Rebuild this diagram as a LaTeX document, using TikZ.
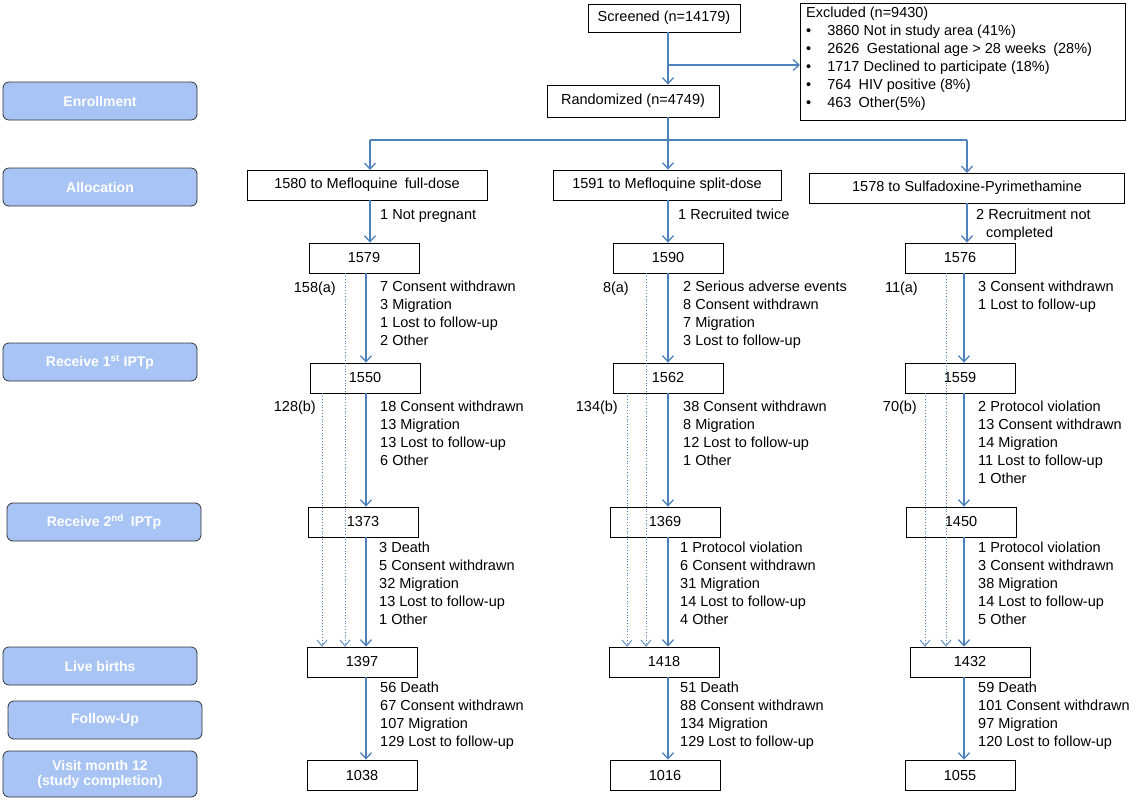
\documentclass[tikz,border=0pt]{standalone}
\usepackage{fontspec}
\setmainfont{Liberation Sans}
\usetikzlibrary{arrows.meta}

\definecolor{arrowblue}{RGB}{79,129,189}
\definecolor{phaseblue}{RGB}{168,196,245}

\tikzset{
  numbox/.style={draw, thick, minimum width=110pt, minimum height=30pt, inner sep=0pt, font=\fontsize{14.5}{16}\selectfont},
  phasebox/.style={draw=black!80, thick, rounded corners=6pt, fill=phaseblue, text=white,
    font=\fontsize{14}{15}\selectfont\bfseries, minimum width=194pt, minimum height=38pt, align=center, inner sep=0pt},
  flow/.style={draw=arrowblue, line width=1.3pt, -{Straight Barb[length=6pt,width=11pt]}},
  dotflow/.style={draw=arrowblue, thick, dotted, -{Straight Barb[length=6pt,width=10pt]}},
  reasons/.style={anchor=north west, align=left, inner sep=0pt, font=\fontsize{14.5}{18}\selectfont},
  tag/.style={anchor=north east, inner sep=0pt, font=\fontsize{14.5}{18}\selectfont}
}

\begin{document}
\begin{tikzpicture}[x=1pt,y=-1pt]
  \useasboundingbox (0,0) rectangle (1132,800);

  % phase labels on the left
  \node[phasebox] (enrol) at (100,101) {Enrollment};
  \node[phasebox] (alloc) at (100,187) {Allocation};
  \node[phasebox] (ipt1) at (100,362) {Receive 1\textsuperscript{st} IPTp};
  \node[phasebox] (ipt2) at (104,522) {Receive 2\textsuperscript{nd}\enspace IPTp};
  \node[phasebox] (live) at (100,666) {Live births};
  \node[phasebox] (fup) at (105,720) {Follow-Up};
  \node[phasebox, minimum height=46pt] (visit) at (100,774) {Visit month 12\\(study completion)};

  % screening
  \node[numbox, minimum width=152pt, minimum height=28pt] (screen) at (664,18) {Screened (n=14179)};
  \node[draw, thick, anchor=north west, minimum width=325pt, minimum height=117pt] (excl) at (800,3) {};
  \node[reasons, anchor=north west] (excltxt) at (806,7)
    {Excluded (n=9430)\\
     \textbullet\hspace{16pt}3860 Not in study area (41\%)\\
     \textbullet\hspace{16pt}2626\enspace Gestational age {>} 28 weeks\enspace(28\%)\\
     \textbullet\hspace{16pt}1717 Declined to participate (18\%)\\
     \textbullet\hspace{16pt}764\enspace HIV positive (8\%)\\
     \textbullet\hspace{16pt}463\enspace Other(5\%)};
  \node[numbox, minimum width=172pt, minimum height=32pt] (rand) at (633,101) {Randomized (n=4749)};
  \coordinate (split) at (668,65);
  \draw[flow] (screen.south -| split) -- (rand.north -| split);
  \draw[flow] (split) -- (excl.west |- split);

  % allocation
  \node[numbox, minimum width=240pt] (armA) at (367,185) {1580 to Mefloquine\enspace full-dose};
  \node[numbox, minimum width=228pt] (armB) at (667,185) {1591 to Mefloquine split-dose};
  \node[numbox, minimum width=315pt] (armC) at (967,188) {1578 to Sulfadoxine-Pyrimethamine};
  \coordinate (branch) at (668,140);
  \draw[arrowblue, line width=1.3pt] (rand.south -| branch) -- (branch);
  \draw[arrowblue, line width=1.3pt] (370,140) -- (967,140);
  \draw[flow] (370,140) -- (370,170);
  \draw[flow] (branch) -- (armB.north -| branch);
  \draw[flow] (967,140) -- (967,173);

  % column boxes
  \node[numbox] (a1) at (364,258) {1579};
  \node[numbox] (a2) at (365,378) {1550};
  \node[numbox] (a3) at (363,522) {1373};
  \node[numbox] (a4) at (362,662) {1397};
  \node[numbox] (a5) at (362,775) {1038};

  \node[numbox] (b1) at (668,258) {1590};
  \node[numbox] (b2) at (668,378) {1562};
  \node[numbox] (b3) at (665,522) {1369};
  \node[numbox] (b4) at (664,662) {1418};
  \node[numbox] (b5) at (665,775) {1016};

  \node[numbox] (c1) at (960,258) {1576};
  \node[numbox] (c2) at (960,378) {1559};
  \node[numbox] (c3) at (961,522) {1450};
  \node[numbox, minimum width=120pt] (c4) at (970,662) {1432};
  \node[numbox] (c5) at (960,775) {1055};

  % main flow per column
  \draw[flow] (armA.south -| 370,0) -- (a1.north -| 370,0);
  \draw[flow] (armB.south -| 668,0) -- (b1.north -| 668,0);
  \draw[flow] (armC.south -| 967,0) -- (c1.north -| 967,0);
  \foreach \col/\x in {a/366, b/668, c/964}{
    \draw[flow] (\col1.south -| \x,0) -- (\col2.north -| \x,0);
    \draw[flow] (\col2.south -| \x,0) -- (\col3.north -| \x,0);
    \draw[flow] (\col3.south -| \x,0) -- (\col4.north -| \x,0);
    \draw[flow] (\col4.south -| \x,0) -- (\col5.north -| \x,0);
  }

  % dotted flows
  \foreach \col/\xa/\xb in {a/345/322, b/646/627, c/946/925}{
    \draw[dotflow] (\col1.south -| \xa,0) -- (\col4.north -| \xa,0);
    \draw[dotflow] (\col2.south -| \xb,0) -- (\col4.north -| \xb,0);
  }
  \node[tag] (ta) at (336,282) {158(a)};
  \node[tag] (tb) at (316,401) {128(b)};
  \node[tag] (tc) at (629,282) {8(a)};
  \node[tag] (td) at (618,401) {134(b)};
  \node[tag] (te) at (918,282) {11(a)};
  \node[tag] (tf) at (917,401) {70(b)};

  % reasons, column A
  \node[reasons] (ra0) at (380,209) {1 Not pregnant};
  \node[reasons] (ra1) at (380,281) {7 Consent withdrawn\\3 Migration\\1 Lost to follow-up\\2 Other};
  \node[reasons] (ra2) at (380,401) {18 Consent withdrawn\\13 Migration\\13 Lost to follow-up\\6 Other};
  \node[reasons] (ra3) at (379,542) {3 Death\\5 Consent withdrawn\\32 Migration\\13 Lost to follow-up\\1 Other};
  \node[reasons] (ra4) at (380,682) {56 Death\\67 Consent withdrawn\\107 Migration\\129 Lost to follow-up};

  % reasons, column B
  \node[reasons] (rb0) at (678,209) {1 Recruited twice};
  \node[reasons] (rb1) at (683,281) {2 Serious adverse events\\8 Consent withdrawn\\7 Migration\\3 Lost to follow-up};
  \node[reasons] (rb2) at (683,401) {38 Consent withdrawn\\8 Migration\\12 Lost to follow-up\\1 Other};
  \node[reasons] (rb3) at (680,542) {1 Protocol violation\\6 Consent withdrawn\\31 Migration\\14 Lost to follow-up\\4 Other};
  \node[reasons] (rb4) at (680,682) {51 Death\\88 Consent withdrawn\\134 Migration\\129 Lost to follow-up};

  % reasons, column C
  \node[reasons] (rc0) at (976,209) {2 Recruitment not\\\hspace{10pt}completed};
  \node[reasons] (rc1) at (978,281) {3 Consent withdrawn\\1 Lost to follow-up};
  \node[reasons] (rc2) at (978,401) {2 Protocol violation\\13 Consent withdrawn\\14 Migration\\11 Lost to follow-up\\1 Other};
  \node[reasons] (rc3) at (978,542) {1 Protocol violation\\3 Consent withdrawn\\38 Migration\\14 Lost to follow-up\\5 Other};
  \node[reasons] (rc4) at (978,682) {59 Death\\101 Consent withdrawn\\97 Migration\\120 Lost to follow-up};
\end{tikzpicture}
\end{document}
